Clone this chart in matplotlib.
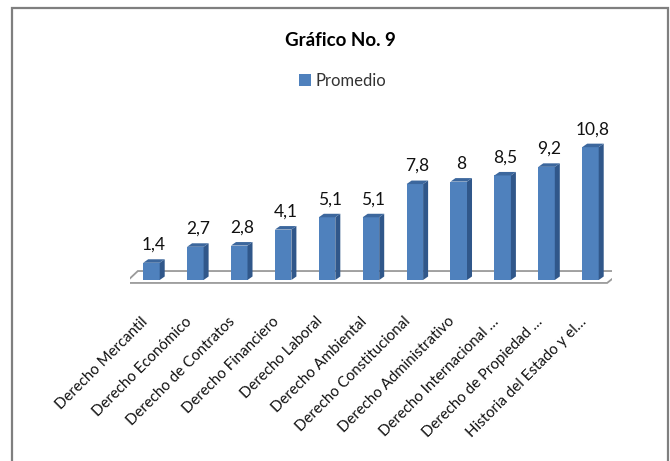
import numpy as np
import matplotlib
matplotlib.use('Agg')
import matplotlib.pyplot as plt
from matplotlib.patches import Polygon, Rectangle

plt.rcParams['font.family'] = ['Lato', 'DejaVu Sans']

# data
categorias = ['Derecho Mercantil', 'Derecho Económico', 'Derecho de Contratos',
              'Derecho Financiero', 'Derecho Laboral', 'Derecho Ambiental',
              'Derecho Constitucional', 'Derecho Administrativo',
              'Derecho Internacional …', 'Derecho de Propiedad …',
              'Historia del Estado y el…']
promedio = [1.4, 2.7, 2.8, 4.1, 5.1, 5.1, 7.8, 8, 8.5, 9.2, 10.8]

FRONT = '#4F81BD'
SIDE = '#30578A'
TOP = '#3C679D'

W, H = 670, 461
fig = plt.figure(figsize=(W / 100, H / 100), dpi=100)

# chart area border
fig.add_artist(Rectangle((12 / W, -0.02), (668 - 12) / W, 1 - 8 / H + 0.02,
                         transform=fig.transFigure, fill=False,
                         edgecolor='#7F7F7F', lw=1.6))

ax = fig.add_axes([129.5 / W, 168.7 / H, 482.9 / W, 159.9 / H])
ax.set_xlim(-0.5, 10.5)
ax.set_ylim(-1, 12)
ax.axis('off')

x = np.arange(len(categorias))
w = 0.376          # front face width
dx, dy = 0.114, 0.285   # 3D depth offset

# floor
n = len(categorias)
floor = Polygon([(-0.60, -0.24), (n - 1 + 0.38, -0.24),
                 (n - 1 + 0.72, 0.73), (-0.31, 0.73)],
                closed=True, facecolor='white', edgecolor='#9A9A9A', lw=1.3,
                zorder=1)
ax.add_patch(floor)

bars = ax.bar(x, promedio, width=w, color=FRONT, zorder=3, label='Promedio')
for xi, v, cat in zip(x, promedio, categorias):
    l, r = xi - w / 2, xi + w / 2
    side = Polygon([(r, 0), (r + dx, dy), (r + dx, v + dy), (r, v)],
                   closed=True, facecolor=SIDE, edgecolor='none', zorder=3)
    top = Polygon([(l, v), (r, v), (r + dx, v + dy), (l + dx, v + dy)],
                  closed=True, facecolor=TOP, edgecolor='none', zorder=3)
    ax.add_patch(side)
    ax.add_patch(top)
    ax.annotate(f'{v:g}'.replace('.', ','), (xi + dx / 2, v),
                xytext=(0, 18), textcoords='offset pixels',
                ha='center', va='center', fontsize=12.5, color='#111111',
                annotation_clip=False)
    ax.text(xi - 0.14, -3.2, cat, rotation=45,
            rotation_mode='anchor', ha='right', va='center', fontsize=10.8,
            color='#111111', clip_on=False)

fig.text(340 / W, 1 - 40 / H, 'Gráfico No. 9', ha='center', va='center',
         fontsize=13.5, fontweight='bold', color='#000000')
fig.legend(handles=[bars], loc='center', bbox_to_anchor=(343 / W, 1 - 81 / H),
           frameon=False, fontsize=12, handlelength=0.7, handleheight=0.7,
           handletextpad=0.3, labelcolor='#333333')

fig.savefig('out.png', dpi=100)
